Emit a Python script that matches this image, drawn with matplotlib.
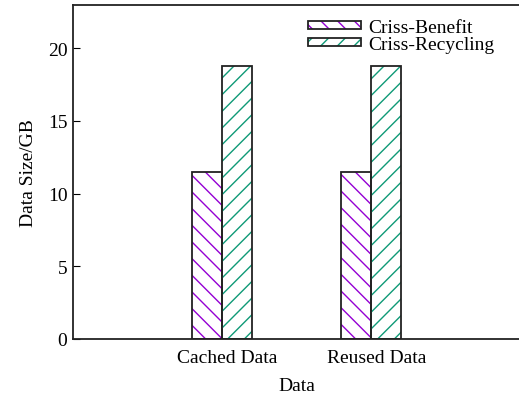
import matplotlib
matplotlib.use("Agg")
from matplotlib import pyplot as plt
from matplotlib.legend_handler import HandlerTuple
from matplotlib.patches import Patch
import numpy as np

categories = ["Cached Data", "Reused Data"]
series_names = ["Criss-Benefit", "Criss-Recycling"]
benefit = [11.45, 11.45]
recycling = [18.8, 18.8]

colors = ["#9400d3", "#0f9a77"]
hatches = ["\\\\", "//"]
BAR_W = 0.2
FS = 14

plt.rcParams["font.family"] = ["Liberation Serif", "DejaVu Serif"]
plt.rcParams["hatch.linewidth"] = 1.0

fig = plt.figure(figsize=(5.19, 4.02), dpi=100)
ax = fig.add_axes([73 / 519, 62 / 402, 447 / 519, 334.5 / 402])

x = np.arange(len(categories))
handles = []
for i, vals in enumerate([benefit, recycling]):
    pos = x + (i - 0.5) * BAR_W
    ax.bar(pos, vals, BAR_W, color="none", edgecolor=colors[i], hatch=hatches[i], linewidth=0)
    ax.bar(pos, vals, BAR_W, fill=False, edgecolor="#222222", linewidth=1.3)
    handles.append((Patch(facecolor="none", edgecolor=colors[i], hatch=hatches[i], linewidth=0),
                    Patch(fill=False, edgecolor="#222222", linewidth=1.3)))

ax.set_xlim(-1, 2)
ax.set_ylim(0, 23)
ax.set_yticks([0, 5, 10, 15, 20])
ax.set_xticks(x + 0.035)
ax.set_xticklabels(categories)
ax.tick_params(axis="x", length=0, labelsize=FS, pad=7)
ax.tick_params(axis="y", direction="in", length=5, labelsize=FS, pad=4)
for s in ["left", "bottom", "top"]:
    ax.spines[s].set_linewidth(1.3)
    ax.spines[s].set_color("#222222")
ax.spines["right"].set_visible(False)
ax.set_ylabel("Data Size/GB", fontsize=FS, labelpad=8)
ax.set_xlabel("Data", fontsize=FS, labelpad=8)

ax.legend(handles, series_names, handler_map={tuple: HandlerTuple(ndivide=1)},
          loc="upper left", bbox_to_anchor=(308 / 519, 1 - 20 / 402), bbox_transform=fig.transFigure,
          frameon=False, fontsize=FS, handlelength=2.7, handleheight=0.3,
          handletextpad=0.4, labelspacing=0.0, borderpad=0, borderaxespad=0)

fig.savefig("out.png", dpi=100)
